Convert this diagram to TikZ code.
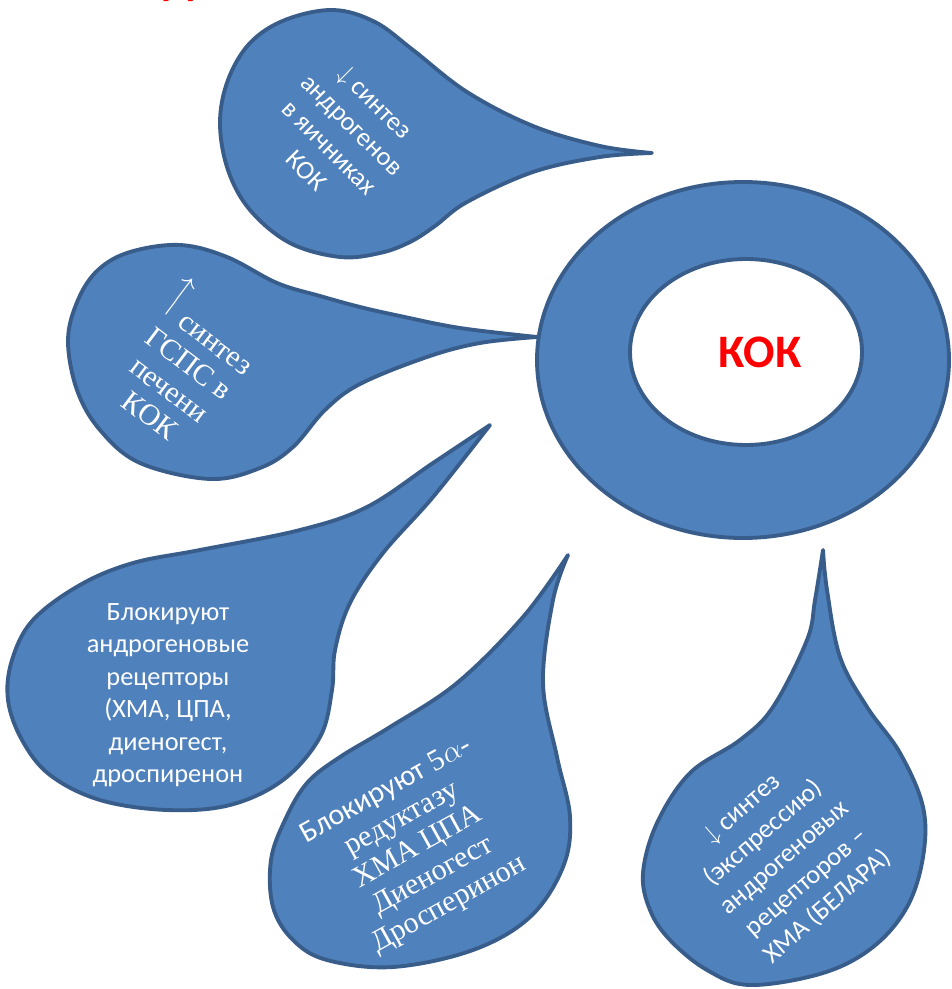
\documentclass[tikz,border=0pt]{standalone}
\usepackage{fontspec}
\setmainfont{Liberation Serif}
\setsansfont{Carlito}
\definecolor{KOKBlue}{HTML}{4F81BD}
\definecolor{KOKEdge}{HTML}{385D8A}
\definecolor{KOKRed}{HTML}{FF0000}
\tikzset{
  drop/.style={draw=KOKEdge,fill=KOKBlue,line width=2.2pt,line join=round},
  ring/.style={drop,even odd rule},
  droptext/.style={text=white,align=center,inner sep=0pt},
  sanscopy/.style={droptext,font=\sffamily\fontsize{15}{18.5}\selectfont},
  serifcopy/.style={droptext,font=\rmfamily\fontsize{17}{18.5}\selectfont},
  centerlabel/.style={text=KOKRed,font=\sffamily\bfseries\fontsize{26.5}{30}\selectfont},
}
\newcommand{\uparr}{\rotatebox{90}{$\longrightarrow$}}

\begin{document}
\begin{tikzpicture}[x=0.2mm,y=-0.2mm]
  \path[use as bounding box,fill=white] (0,0) rectangle (951,989);

  % title, cut off by the top edge
  \begin{scope}
    \clip (0,0) rectangle (951,989);
    \node[centerlabel,anchor=base,inner sep=0pt] (title) at (179,-5) {Д};
  \end{scope}

  % ring
  \path[ring] (743,360) ellipse [x radius=206,y radius=178]
              (746,352) ellipse [x radius=116,y radius=93];
  \node[centerlabel] (kok) at (760,352) {КОК};

  % drops
  \path[drop] plot[smooth,tension=0.6] coordinates {(652,153) (600,146) (533,126)
    (467,92) (413,50) (375,22) (333,10) (285,20) (250,43) (228,80) (220,123)
    (228,170) (250,210) (290,243) (340,257) (380,253) (410,242) (435,226)
    (467,202) (533,172) (600,157) (652,153)} -- cycle;
  \path[drop] plot[smooth,tension=0.6] coordinates {(537,337) (460,328) (400,316)
    (360,307) (320,296) (277,283) (227,257) (180,245) (130,252) (98,270) (78,300)
    (68,340) (77,390) (100,430) (140,463) (210,479) (260,468) (293,447) (325,410)
    (360,384) (427,357) (480,343) (537,337)} -- cycle;
  \path[drop] plot[smooth,tension=0.6] coordinates {(490,425) (433,463) (367,507)
    (300,530) (200,550) (133,563) (80,585) (33,620) (12,660) (8,700) (22,740)
    (50,775) (100,800) (167,810) (230,805) (283,780) (320,737) (332,690)
    (335,650) (350,603) (383,553) (433,497) (490,425)} -- cycle;
  \path[drop] plot[smooth,tension=0.6] coordinates {(568,555) (523,617) (457,683)
    (390,727) (340,757) (307,783) (285,820) (271,860) (273,907) (293,940)
    (327,960) (393,967) (473,950) (530,917) (563,867) (570,817) (557,757)
    (543,683) (553,600) (568,555)} -- cycle;
  \path[drop] plot[smooth,tension=0.6] coordinates {(823,550) (815,600) (807,640)
    (773,707) (740,740) (690,773) (657,823) (643,873) (650,910) (670,940)
    (707,970) (750,985) (823,973) (873,947) (907,907) (923,857) (923,807)
    (900,753) (867,707) (840,657) (827,590) (823,550)} -- cycle;

  % texts
  \node[sanscopy,rotate=-45] (ovary) at (341,136)
    {$\downarrow$ синтез\\андрогенов\\в яичниках\\КОК};
  \node[serifcopy,rotate=-37] (liver) at (188,365)
    {\uparr\ синтез\\ГСПС в\\печени\\КОК};
  \node[sanscopy] (receptor) at (168,695)
    {Блокируют\\андрогеновые\\рецепторы\\(ХМА, ЦПА,\\диеногест,\\дроспиренон};
  \node[serifcopy,rotate=29] (reductase) at (418,848)
    {{\sffamily Блокируют} 5$\alpha$-\\редуктазу\\ХМА ЦПА\\Диеногест\\Дросперинон};
  \node[sanscopy,rotate=41] (expression) at (785,858)
    {$\downarrow$ синтез\\(экспрессию)\\андрогеновых\\рецепторов –\\ХМА (БЕЛАРА)};
\end{tikzpicture}
\end{document}
